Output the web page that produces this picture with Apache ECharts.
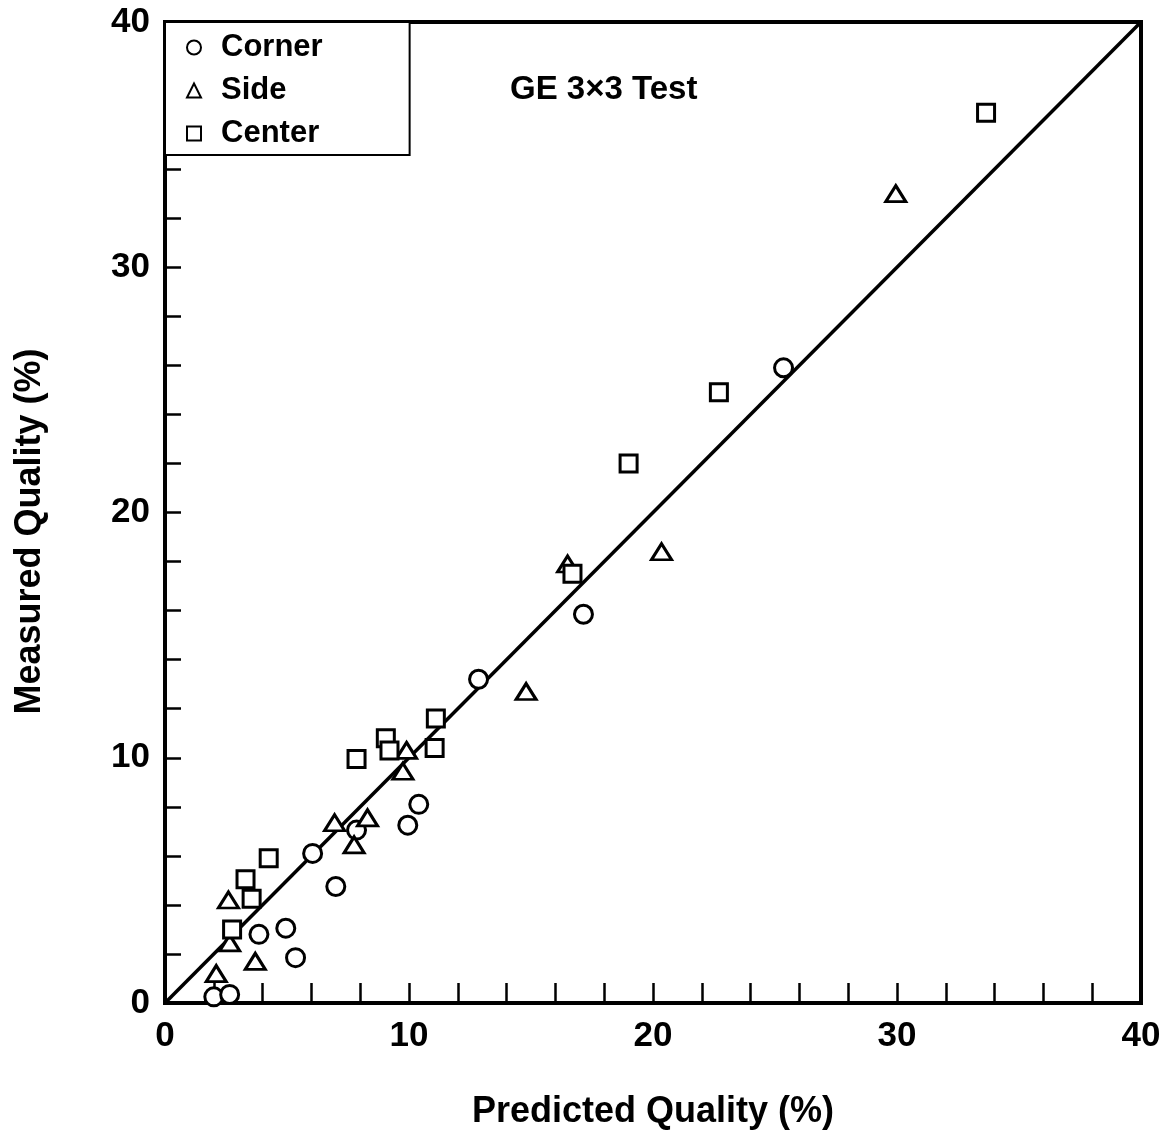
<!DOCTYPE html>
<html>
<head>
<meta charset="utf-8">
<script src="https://cdn.jsdelivr.net/npm/echarts@6/dist/echarts.min.js"></script>
<style>
  html, body { margin: 0; padding: 0; background: #fff; }
  #chart { width: 1167px; height: 1138px; }
</style>
</head>
<body>
<div id="chart"></div>
<script>
// values, [predicted, measured] in %
const cornerPoints = [
  [2.0, 0.25], [2.65, 0.35], [3.85, 2.8], [4.95, 3.05], [5.35, 1.85],
  [6.05, 6.1], [7.0, 4.75], [7.85, 7.05], [9.95, 7.25], [10.4, 8.1],
  [12.85, 13.2], [17.15, 15.85], [25.35, 25.9]
];
const sidePoints = [
  [2.1, 1.2], [2.6, 4.2], [2.65, 2.45], [3.7, 1.7], [6.95, 7.35],
  [7.75, 6.45], [8.3, 7.55], [9.75, 9.45], [9.9, 10.3], [14.8, 12.7],
  [16.5, 17.9], [20.35, 18.4], [29.95, 33.0]
];
const centerPoints = [
  [2.75, 3.0], [3.3, 5.05], [3.55, 4.25], [4.25, 5.9], [7.85, 9.95],
  [9.05, 10.8], [9.2, 10.3], [11.1, 11.6], [11.05, 10.4], [16.7, 17.5],
  [19.0, 22.0], [22.7, 24.9], [33.65, 36.3]
];
const fitLine = [[0, 0], [40, 40]];
const axisMin = 0;
const axisMax = 40;
const labelStep = 10;

const FONT = '"Liberation Sans", Arial, sans-serif';

const chart = echarts.init(document.getElementById('chart'));

// scatter defaults to 0.8 opacity, the scan is solid black
const markStyle = { color: '#fff', borderColor: '#000', borderWidth: 3, opacity: 1 };

function axis(name, isX) {
  return {
    type: 'value',
    min: axisMin,
    max: axisMax,
    interval: 2,
    name: name,
    nameLocation: 'middle',
    nameGap: isX ? 91 : 117,
    nameTextStyle: {
      fontFamily: FONT, fontWeight: 'bold', fontSize: 36, color: '#000',
      padding: isX ? 0 : [0, 38, 0, 0]
    },
    axisLine: { show: true, lineStyle: { color: '#000', width: 4 } },
    axisTick: { show: true, inside: true, length: isX ? 20 : 16, lineStyle: { color: '#000', width: 2.5 } },
    splitLine: { show: false },
    axisLabel: {
      fontFamily: FONT, fontWeight: 'bold', fontSize: 35, color: '#000',
      margin: isX ? 16 : 15,
      formatter: v => (v % labelStep === 0 ? String(v) : '')
    }
  };
}

chart.setOption({
  animation: false,
  backgroundColor: '#fff',
  title: {
    text: 'GE 3×3 Test',
    left: 510,
    top: 73,
    padding: 0,
    textStyle: { fontFamily: FONT, fontWeight: 'bold', fontSize: 33, color: '#000' }
  },
  legend: {
    orient: 'vertical',
    left: 165,
    top: 22,
    padding: [9, 87, 5, 21],
    itemWidth: 14,
    itemHeight: 14,
    itemGap: 10,
    borderColor: '#000',
    borderWidth: 2,
    borderRadius: 0,
    backgroundColor: '#fff',
    itemStyle: { color: '#fff', borderColor: '#000', borderWidth: 2, opacity: 1 },
    textStyle: {
      fontFamily: FONT, fontWeight: 'bold', fontSize: 31, color: '#000',
      lineHeight: 33, padding: [0, 0, 0, 15]
    },
    data: [
      { name: 'Corner', icon: 'circle' },
      { name: 'Side', icon: 'triangle' },
      { name: 'Center', icon: 'rect' }
    ]
  },
  grid: {
    left: 165, top: 22, right: 26, bottom: 135,
    show: true, borderColor: '#000', borderWidth: 4, backgroundColor: 'transparent'
  },
  xAxis: axis('Predicted Quality (%)', true),
  yAxis: axis('Measured Quality (%)', false),
  series: [
    {
      type: 'line',
      data: fitLine,
      symbol: 'none',
      silent: true,
      lineStyle: { color: '#000', width: 3.5 },
      z: 1
    },
    {
      name: 'Corner', type: 'scatter', symbol: 'circle', symbolSize: 18,
      data: cornerPoints, itemStyle: markStyle, z: 2
    },
    {
      name: 'Side', type: 'scatter', symbol: 'triangle', symbolSize: [20, 16],
      data: sidePoints, itemStyle: markStyle, z: 3
    },
    {
      name: 'Center', type: 'scatter', symbol: 'rect', symbolSize: 17,
      data: centerPoints, itemStyle: markStyle, z: 4
    }
  ]
});
</script>
</body>
</html>
